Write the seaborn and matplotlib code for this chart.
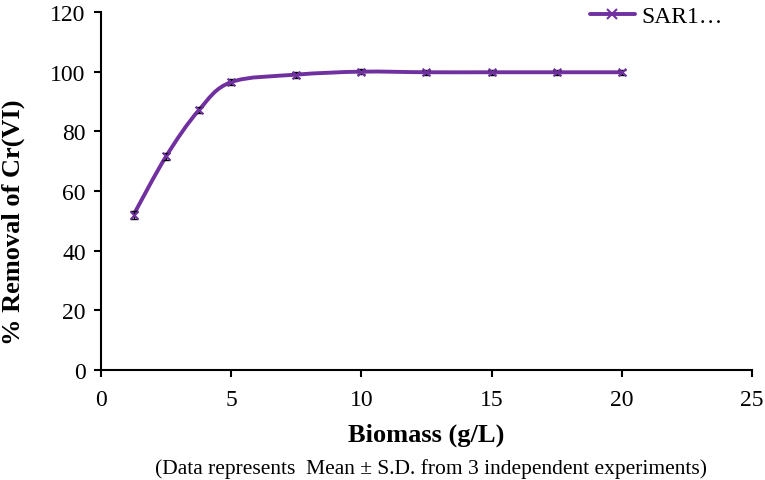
import numpy as np
import matplotlib
matplotlib.use("Agg")
import matplotlib.pyplot as plt
import seaborn as sns
from matplotlib.path import Path
from matplotlib.patches import PathPatch
from matplotlib.lines import Line2D

biomass = [1.25, 2.5, 3.75, 5, 7.5, 10, 12.5, 15, 17.5, 20]
removal = [52.0, 71.6, 87.0, 96.5, 99.0, 100.0, 99.8, 99.8, 99.8, 99.8]
sd = [1.3, 1.2, 1.0, 1.0, 1.0, 0.8, 0.8, 0.8, 0.8, 0.8]
series_name = "SAR1…"

purple = "#7030A0"

sns.set_style("ticks")
plt.rcParams["font.family"] = ["Liberation Serif", "DejaVu Serif"]
plt.rcParams["text.color"] = "black"
plt.rcParams["axes.labelcolor"] = "black"
plt.rcParams["xtick.color"] = "black"
plt.rcParams["ytick.color"] = "black"

fig = plt.figure(figsize=(7.65, 4.81), dpi=100)
ax = fig.add_axes([0.132, 0.2287, 0.851, 0.7443])

# smooth line like excel (catmull-rom -> bezier)
pts = np.column_stack([biomass, removal])
verts = [tuple(pts[0])]
codes = [Path.MOVETO]
n = len(pts)
for i in range(n - 1):
    p0 = pts[max(i - 1, 0)]
    p1 = pts[i]
    p2 = pts[i + 1]
    p3 = pts[min(i + 2, n - 1)]
    c1 = p1 + (p2 - p0) / 6
    c2 = p2 - (p3 - p1) / 6
    verts += [tuple(c1), tuple(c2), tuple(p2)]
    codes += [Path.CURVE4] * 3
ax.add_patch(PathPatch(Path(verts, codes), facecolor="none", edgecolor=purple, lw=2.8, zorder=2))

ax.errorbar(biomass, removal, yerr=sd, fmt="none", ecolor="black", elinewidth=1, capsize=3, capthick=1, zorder=3)
sns.scatterplot(x=biomass, y=removal, marker="x", color=purple, s=30, linewidth=1.5, ax=ax, zorder=4)

ax.set_xlim(0, 25)
ax.set_ylim(0, 120)
ax.set_xticks(range(0, 26, 5))
ax.set_yticks(range(0, 121, 20))
ax.tick_params(labelsize=17, width=1.5, length=5, color="black")
ax.tick_params(axis="x", pad=9)
ax.tick_params(axis="y", pad=6)
for s in ["left", "bottom"]:
    ax.spines[s].set_linewidth(1.5)
    ax.spines[s].set_color("black")
sns.despine(ax=ax)

ax.set_xlabel("Biomass (g/L)", fontsize=19, fontweight="bold")
ax.set_ylabel("% Removal of Cr(VI)", fontsize=19, fontweight="bold")
ax.xaxis.set_label_coords(0.5, -0.148)
ax.yaxis.set_label_coords(-0.117, 0.416)

fig.text(0.203, 0.025, "(Data represents  Mean ± S.D. from 3 independent experiments)", ha="left", va="center",
         fontsize=15.5)

handle = Line2D([], [], color=purple, lw=2.8, marker="x", markersize=7, markeredgewidth=1.5)
ax.legend([handle], [series_name], loc="upper right", bbox_to_anchor=(0.97, 1.045), frameon=False,
          fontsize=17, handlelength=1.9, handletextpad=0.3, borderaxespad=0)

fig.savefig("out.png", dpi=100)
